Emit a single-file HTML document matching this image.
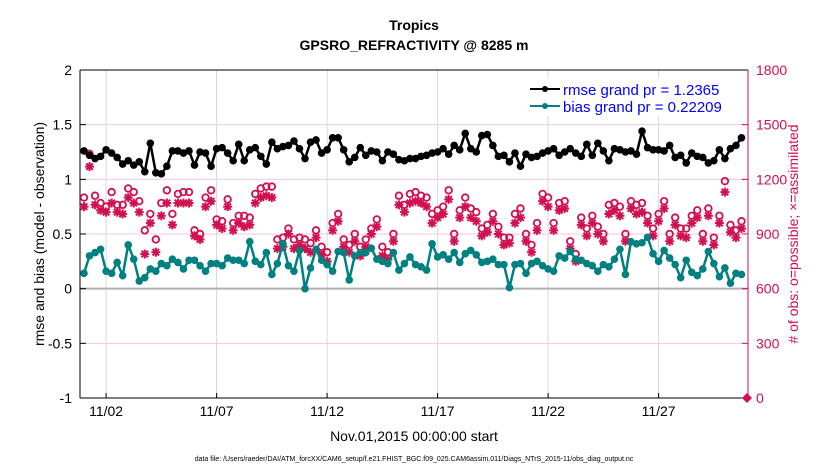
<!DOCTYPE html>
<html><head><meta charset="utf-8">
<style>
body{margin:0;background:#fff;width:830px;height:470px;overflow:hidden;font-family:"Liberation Sans",sans-serif}
svg text{font-family:"Liberation Sans",sans-serif}
</style></head>
<body>
<svg id="chart" width="830" height="470" xmlns="http://www.w3.org/2000/svg">
<rect width="830" height="470" fill="#fff"/>
<text x="414" y="30" text-anchor="middle" font-size="14" font-weight="bold">Tropics</text>
<text x="414" y="50" text-anchor="middle" font-size="14" font-weight="bold">GPSRO_REFRACTIVITY @ 8285 m</text>
<g id="grid"></g>
<g id="axes"></g>
<g id="marks"></g>
<g id="legend">
<rect x="528" y="78" width="218" height="38" fill="#fff"/>
<line x1="530" y1="89" x2="560" y2="89" stroke="#000" stroke-width="2"/><circle cx="545" cy="89" r="3" fill="#000"/>
<text x="563" y="95" font-size="15" fill="#0000ff">rmse grand pr = 1.2365</text>
<line x1="530" y1="106" x2="560" y2="106" stroke="#008080" stroke-width="2"/><circle cx="545" cy="106" r="3" fill="#008080"/>
<text x="563" y="112" font-size="15" fill="#0000ff">bias grand pr = 0.22209</text>
</g>
<text x="414" y="441" text-anchor="middle" font-size="14">Nov.01,2015 00:00:00 start</text>
<text transform="translate(44,234) rotate(-90)" text-anchor="middle" font-size="14">rmse and bias (model - observation)</text>
<text transform="translate(798,234) rotate(-90)" text-anchor="middle" font-size="14" fill="#d1104f"># of obs: o=possible; ×=assimilated</text>
<text x="414" y="461" text-anchor="middle" font-size="7">data file: /Users/raeder/DAI/ATM_forcXX/CAM6_setup/f.e21.FHIST_BGC.f09_025.CAM6assim.011/Diags_NTrS_2015-11/obs_diag_output.nc</text>
</svg>
<script>
const rmse=[1.26,1.22,1.19,1.21,1.27,1.24,1.20,1.14,1.17,1.13,1.16,1.07,1.33,1.06,1.05,1.12,1.26,1.26,1.24,1.26,1.13,1.25,1.24,1.12,1.28,1.29,1.24,1.17,1.32,1.17,1.27,1.29,1.21,1.14,1.34,1.28,1.30,1.31,1.35,1.28,1.19,1.34,1.36,1.24,1.27,1.38,1.38,1.27,1.16,1.20,1.29,1.22,1.26,1.25,1.17,1.25,1.23,1.18,1.17,1.19,1.19,1.21,1.22,1.24,1.25,1.28,1.23,1.31,1.27,1.42,1.28,1.25,1.40,1.41,1.31,1.21,1.22,1.16,1.24,1.12,1.23,1.20,1.21,1.24,1.26,1.28,1.22,1.25,1.28,1.24,1.21,1.32,1.22,1.33,1.26,1.17,1.28,1.27,1.25,1.26,1.23,1.44,1.29,1.27,1.27,1.26,1.31,1.20,1.22,1.15,1.24,1.21,1.20,1.15,1.17,1.27,1.19,1.28,1.31,1.38];
const bias=[0.14,0.30,0.33,0.36,0.16,0.14,0.24,0.12,0.40,0.27,0.07,0.10,0.18,0.16,0.23,0.21,0.27,0.24,0.18,0.26,0.26,0.21,0.16,0.23,0.23,0.21,0.28,0.26,0.26,0.23,0.43,0.25,0.22,0.33,0.13,0.23,0.41,0.21,0.16,0.35,0.00,0.19,0.36,0.26,0.22,0.16,0.34,0.33,0.08,0.30,0.33,0.33,0.37,0.27,0.25,0.23,0.33,0.17,0.23,0.29,0.22,0.20,0.17,0.41,0.29,0.31,0.27,0.33,0.24,0.32,0.35,0.31,0.24,0.25,0.27,0.22,0.22,0.01,0.22,0.23,0.14,0.23,0.25,0.21,0.18,0.16,0.30,0.28,0.34,0.27,0.26,0.23,0.21,0.16,0.22,0.20,0.27,0.36,0.13,0.43,0.41,0.42,0.47,0.32,0.25,0.35,0.28,0.22,0.10,0.26,0.15,0.12,0.18,0.34,0.23,0.11,0.19,0.05,0.14,0.13];
const possible=[1100,1340,1110,1070,1050,1130,1060,1060,1150,1130,1080,920,1010,870,1070,1140,1010,1120,1130,1130,920,900,1100,1140,980,970,1090,960,1000,1000,990,1120,1150,1160,1160,870,880,930,870,880,870,850,920,830,800,960,1010,870,840,900,830,870,930,980,830,800,900,1110,1060,1120,1130,1110,1100,1010,1030,1050,1140,900,1030,1100,1040,1020,930,950,1010,940,880,880,1010,1040,900,840,960,1120,1100,960,1070,1080,860,790,990,930,1000,940,900,1060,1070,1050,900,1080,1060,1070,1000,930,1010,1080,900,990,930,930,1000,1030,900,1040,880,1000,1190,950,920,970];
const assimilated=[1050,1270,1060,1030,1020,1070,1020,1010,1100,1070,1020,790,960,800,1000,1070,950,1070,1070,1070,890,870,1050,1080,950,930,1050,920,960,940,950,1070,1100,1110,1100,820,830,900,820,840,820,800,880,790,750,920,970,830,800,860,780,830,900,940,780,760,860,1060,1020,1070,1080,1070,1050,960,990,1010,1090,860,990,1050,990,970,890,910,970,900,840,850,960,990,860,800,920,1080,1050,920,1030,1040,820,750,950,890,960,900,860,1010,1030,1000,860,1040,1010,1020,960,890,970,1040,860,950,890,880,960,990,860,1000,840,960,1130,910,880,930];
const leftTicks=[2,1.5,1,0.5,0,-0.5,-1];
const leftTickLabels=["2","1.5","1","0.5","0","-0.5","-1"];
const rightTicks=[0,300,600,900,1200,1500,1800];
const dateTickDays=[1,6,11,16,21,26];
const dateTickLabels=["11/02","11/07","11/12","11/17","11/22","11/27"];

const NS="http://www.w3.org/2000/svg";
const L=80,R=748,T=70,B=398;
const dayPx=22.1,day0=84;
const X=d=>day0+d*dayPx;
const Y=v=>T+(2-v)/3*(B-T);
const YR=c=>B-c/1800*(B-T);
function mk(tag,attrs,parent){const e=document.createElementNS(NS,tag);for(const k in attrs)e.setAttribute(k,attrs[k]);parent.appendChild(e);return e;}
const grid=document.getElementById('grid'),axes=document.getElementById('axes'),marks=document.getElementById('marks');
mk('rect',{x:L,y:T,width:R-L,height:B-T,fill:'#fff'},grid);
dateTickDays.forEach((d,i)=>{
  const l=mk('line',{x1:X(d),y1:T,x2:X(d),y2:B,stroke:'#d8d8d8','stroke-width':1},grid);
  
  
  const t=mk('text',{x:X(d),y:B+18,'text-anchor':'middle','font-size':14},axes);
  t.textContent=dateTickLabels[i];
  
  
  mk('line',{x1:X(d),y1:B,x2:X(d),y2:B-5,stroke:'#000'},axes);
});
rightTicks.forEach(c=>{
  if(c>0&&c<1800){const l=mk('line',{x1:L,y1:YR(c),x2:R,y2:YR(c),stroke:'#f4c8d8','stroke-width':1},grid);
  
  }
  mk('line',{x1:R,y1:YR(c),x2:R-6,y2:YR(c),stroke:'#d1104f'},axes);
  const t=mk('text',{x:R+8,y:YR(c)+5,'font-size':14,fill:'#d1104f'},axes);
  t.textContent=String(c);
  
  
});
mk('line',{x1:L,y1:Y(0),x2:R,y2:Y(0),stroke:'#b0b0b0','stroke-width':2},grid);
leftTicks.forEach((v,i)=>{
  mk('line',{x1:L,y1:Y(v),x2:L+6,y2:Y(v),stroke:'#000'},axes);
  const t=mk('text',{x:L-8,y:Y(v)+5,'text-anchor':'end','font-size':14},axes);
  t.textContent=leftTickLabels[i];
  
  
});
mk('line',{x1:L,y1:T,x2:L,y2:B,stroke:'#000'},axes);
mk('line',{x1:L,y1:B,x2:R,y2:B,stroke:'#000'},axes);
mk('line',{x1:L,y1:T,x2:R,y2:T,stroke:'#000'},axes);
mk('line',{x1:R,y1:T,x2:R,y2:B,stroke:'#d1104f'},axes);

const red='#d1104f';
possible.forEach((c,i)=>{
  const m=mk('circle',{cx:X(i*0.25),cy:YR(c),r:3.3,fill:'none',stroke:red,'stroke-width':1.8},marks);
  
  
});
assimilated.forEach((c,i)=>{
  const x=X(i*0.25),y=YR(c);
  const g=mk('g',{stroke:red,'stroke-width':2},marks);
  
  
  mk('line',{x1:x-4.5,y1:y,x2:x+4.5,y2:y},g);
  mk('line',{x1:x,y1:y-4.5,x2:x,y2:y+4.5},g);
  mk('line',{x1:x-3.3,y1:y-3.3,x2:x+3.3,y2:y+3.3},g);
  mk('line',{x1:x-3.3,y1:y+3.3,x2:x+3.3,y2:y-3.3},g);
});
function series(arr,color,name){
  const p=mk('polyline',{points:arr.map((v,i)=>X(i*0.25)+','+Y(v)).join(' '),fill:'none',stroke:color,'stroke-width':2.5},marks);
  
  
  arr.forEach((v,i)=>{
    const c=mk('circle',{cx:X(i*0.25),cy:Y(v),r:3.8,fill:color},marks);
    
    
  });
}
series(rmse,'#000','rmse');
series(bias,'#008080','bias');
const dm=mk('path',{d:`M${X(30)} ${B-5} L${X(30)+5} ${B} L${X(30)} ${B+5} L${X(30)-5} ${B} Z`,fill:red},marks);


</script>
</body></html>
